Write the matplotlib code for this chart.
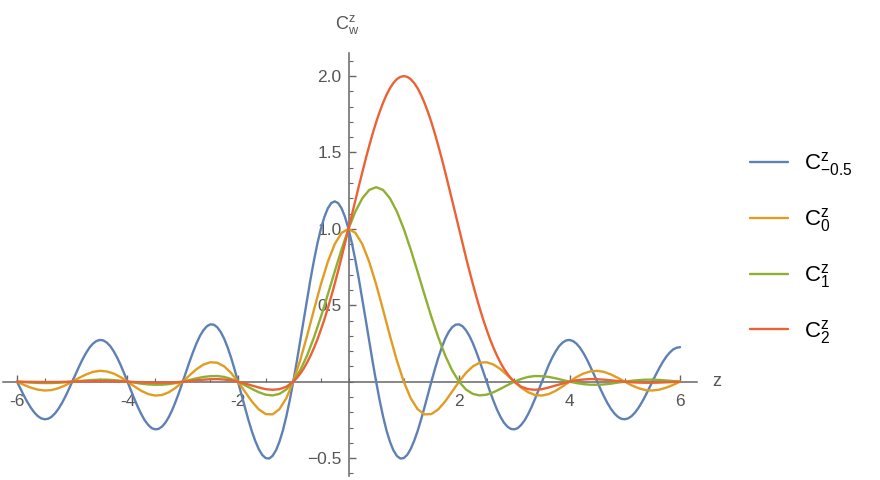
import numpy as np
import matplotlib
matplotlib.use("Agg")
import matplotlib.pyplot as plt
from matplotlib.ticker import MultipleLocator, FixedLocator

# sample points: 1/16 steps for the blue curve and the red hump, 1/8 elsewhere
z_fine = np.linspace(-6, 6, 193)
z = np.linspace(-6, 6, 97)
z_red = np.concatenate([np.linspace(-6, -1.125, 40),
                        np.linspace(-1, 3, 65),
                        np.linspace(3.125, 6, 24)])

c_m05 = [0.000, -0.046, -0.091, -0.133, -0.170, -0.201, -0.225, -0.240, -0.246,
         -0.243, -0.230, -0.208, -0.178, -0.141, -0.098, -0.050, 0.000,
         0.051, 0.100, 0.147, 0.188, 0.223, 0.249, 0.266, 0.273,
         0.270, 0.256, 0.233, 0.199, 0.158, 0.110, 0.056, 0.000,
         -0.057, -0.113, -0.166, -0.213, -0.253, -0.283, -0.304, -0.312,
         -0.309, -0.294, -0.268, -0.230, -0.183, -0.127, -0.066, 0.000,
         0.067, 0.133, 0.195, 0.252, 0.300, 0.337, 0.363, 0.375,
         0.373, 0.356, 0.325, 0.281, 0.224, 0.157, 0.081, 0.000,
         -0.084, -0.168, -0.249, -0.324, -0.388, -0.441, -0.479, -0.500,
         -0.503, -0.486, -0.449, -0.393, -0.319, -0.227, -0.120, 0.000,
         0.129, 0.265, 0.403, 0.539, 0.671, 0.794, 0.905, 1.000,
         1.077, 1.134, 1.169,
         1.180, 1.169, 1.134, 1.077,
         1.000, 0.905, 0.794, 0.671, 0.539, 0.403, 0.265, 0.129,
         0.000, -0.120, -0.227, -0.319, -0.393, -0.449, -0.486, -0.503,
         -0.500, -0.479, -0.441, -0.388, -0.324, -0.249, -0.168, -0.084,
         0.000, 0.081, 0.157, 0.224, 0.281, 0.325, 0.356, 0.373,
         0.375, 0.363, 0.337, 0.300, 0.252, 0.195, 0.133, 0.067,
         0.000, -0.066, -0.127, -0.183, -0.230, -0.268, -0.294, -0.309,
         -0.312, -0.304, -0.283, -0.253, -0.213, -0.166, -0.113, -0.057,
         0.000, 0.056, 0.110, 0.158, 0.199, 0.233, 0.256, 0.270,
         0.273, 0.266, 0.249, 0.223, 0.188, 0.147, 0.100, 0.051,
         0.000, -0.050, -0.098, -0.141, -0.178, -0.208, -0.230, -0.243,
         -0.246, -0.240, -0.225, -0.201, -0.170, -0.133, -0.091, -0.046,
         0.000, 0.046, 0.089, 0.129, 0.163, 0.190, 0.211, 0.222,
         0.226]

c_0 = [0.000,
       -0.021, -0.039, -0.052, -0.058, -0.055, -0.043, -0.024, 0.000,
       0.025, 0.047, 0.064, 0.071, 0.067, 0.053, 0.030, 0.000,
       -0.031, -0.060, -0.081, -0.091, -0.087, -0.069, -0.039, 0.000,
       0.042, 0.082, 0.112, 0.127, 0.124, 0.100, 0.057, 0.000,
       -0.065, -0.129, -0.181, -0.212, -0.214, -0.180, -0.108, 0.000,
       0.139, 0.300, 0.471, 0.637, 0.784, 0.900, 0.974, 1.000,
       0.974, 0.900, 0.784, 0.637, 0.471, 0.300, 0.139, 0.000,
       -0.108, -0.180, -0.214, -0.212, -0.181, -0.129, -0.065, 0.000,
       0.057, 0.100, 0.124, 0.127, 0.112, 0.082, 0.042, 0.000,
       -0.039, -0.069, -0.087, -0.091, -0.081, -0.060, -0.031, 0.000,
       0.030, 0.053, 0.067, 0.071, 0.064, 0.047, 0.025, 0.000,
       -0.024, -0.043, -0.055, -0.058, -0.052, -0.039, -0.021, 0.000]

c_1 = [0.000,
       -0.003, -0.006, -0.008, -0.009, -0.009, -0.007, -0.004, 0.000,
       0.004, 0.008, 0.011, 0.013, 0.013, 0.010, 0.006, 0.000,
       -0.006, -0.013, -0.018, -0.020, -0.020, -0.016, -0.009, 0.000,
       0.011, 0.022, 0.031, 0.036, 0.037, 0.031, 0.018, 0.000,
       -0.023, -0.047, -0.069, -0.085, -0.090, -0.080, -0.051, 0.000,
       0.074, 0.171, 0.290, 0.424, 0.570, 0.720, 0.866, 1.000,
       1.114, 1.200, 1.255, 1.273, 1.255, 1.200, 1.114, 1.000,
       0.866, 0.720, 0.570, 0.424, 0.290, 0.171, 0.074, 0.000,
       -0.051, -0.080, -0.090, -0.085, -0.069, -0.047, -0.023, 0.000,
       0.018, 0.031, 0.037, 0.036, 0.031, 0.022, 0.011, 0.000,
       -0.009, -0.016, -0.020, -0.020, -0.018, -0.013, -0.006, 0.000,
       0.006, 0.010, 0.013, 0.013, 0.011, 0.008, 0.004, 0.000]

c_2 = [0.000,
       -0.001, -0.001, -0.002, -0.002, -0.002, -0.002, -0.001, 0.000,
       0.001, 0.002, 0.003, 0.004, 0.004, 0.003, 0.002, 0.000,
       -0.002, -0.004, -0.006, -0.007, -0.007, -0.006, -0.004, 0.000,
       0.004, 0.009, 0.013, 0.016, 0.017, 0.014, 0.009, 0.000,
       -0.012, -0.025, -0.038, -0.049, -0.053, -0.049, -0.033,
       # z = -1 .. 3 in 1/16 steps
       0.000, 0.023, 0.052, 0.085, 0.125, 0.170, 0.221, 0.277,
       0.340, 0.407, 0.480, 0.558, 0.640, 0.726, 0.815, 0.907,
       1.000, 1.094, 1.188, 1.281, 1.372, 1.460, 1.544, 1.624,
       1.698, 1.765, 1.825, 1.877, 1.921, 1.955, 1.980, 1.995,
       2.000, 1.995, 1.980, 1.955, 1.921, 1.877, 1.825, 1.765,
       1.698, 1.624, 1.544, 1.460, 1.372, 1.281, 1.188, 1.094,
       1.000, 0.907, 0.815, 0.726, 0.640, 0.558, 0.480, 0.407,
       0.340, 0.277, 0.221, 0.170, 0.125, 0.085, 0.052, 0.023,
       0.000,
       -0.033, -0.049, -0.053, -0.049, -0.038, -0.025, -0.012, 0.000,
       0.009, 0.014, 0.017, 0.016, 0.013, 0.009, 0.004, 0.000,
       -0.004, -0.006, -0.007, -0.007, -0.006, -0.004, -0.002, 0.000]

labels = [r"$C^{z}_{-0.5}$", r"$C^{z}_{0}$", r"$C^{z}_{1}$", r"$C^{z}_{2}$"]
colors = ["#5e81b5", "#e19c24", "#8fb032", "#eb6235"]
xticks = [-6, -4, -2, 2, 4, 6]
yticks = [-0.5, 0.5, 1.0, 1.5, 2.0]

plt.rcParams["font.family"] = ["Liberation Sans", "DejaVu Sans"]
plt.rcParams["mathtext.default"] = "regular"

axis_col = "#666666"
text_col = "#555555"

fig = plt.figure(figsize=(8.8, 4.8), dpi=100)
ax = fig.add_axes([0.0036, 0.0075, 0.788, 0.8817])

series = [(z_fine, c_m05), (z, c_0), (z, c_1), (z_red, c_2)]
for (xs, ys), col, lab in zip(series, colors, labels):
    ax.plot(xs, ys, color=col, lw=1.7, label=lab, zorder=3,
            solid_capstyle="round", solid_joinstyle="round")

ax.set_xlim(-6.25, 6.3)
ax.set_ylim(-0.62, 2.15)

for s in ["top", "right"]:
    ax.spines[s].set_visible(False)
ax.spines["left"].set_position(("data", 0))
ax.spines["bottom"].set_position(("data", 0))
for s in ["left", "bottom"]:
    ax.spines[s].set_color(axis_col)
    ax.spines[s].set_linewidth(1.1)

ax.xaxis.set_major_locator(FixedLocator(xticks))
ax.xaxis.set_minor_locator(MultipleLocator(0.5))
ax.yaxis.set_major_locator(FixedLocator(yticks))
ax.yaxis.set_minor_locator(MultipleLocator(0.1))
ax.set_xticklabels([str(t) for t in xticks])
ax.set_yticklabels(["\u22120.5", "0.5", "1.0", "1.5", "2.0"])

ax.tick_params(which="both", direction="in", color=axis_col,
               labelcolor=text_col, labelsize=12.5)
ax.tick_params(which="major", length=5, width=1.0)
ax.tick_params(which="minor", length=3, width=0.8)
ax.tick_params(axis="x", which="major", pad=9)
ax.tick_params(axis="y", which="major", pad=5)

fig.text(712 / 880, 1 - 381 / 480, "z", color=text_col, fontsize=13,
         ha="left", va="center")
fig.text(347 / 880, 1 - 25 / 480, r"$C^{z}_{w}$", color=text_col,
         fontsize=13, ha="center", va="center")

fig.legend(loc="center left", bbox_to_anchor=(0.830, 1 - 248 / 480),
           frameon=False, fontsize=16, handlelength=1.7,
           handletextpad=0.7, labelspacing=1.25)

fig.savefig("out.png", dpi=100)
